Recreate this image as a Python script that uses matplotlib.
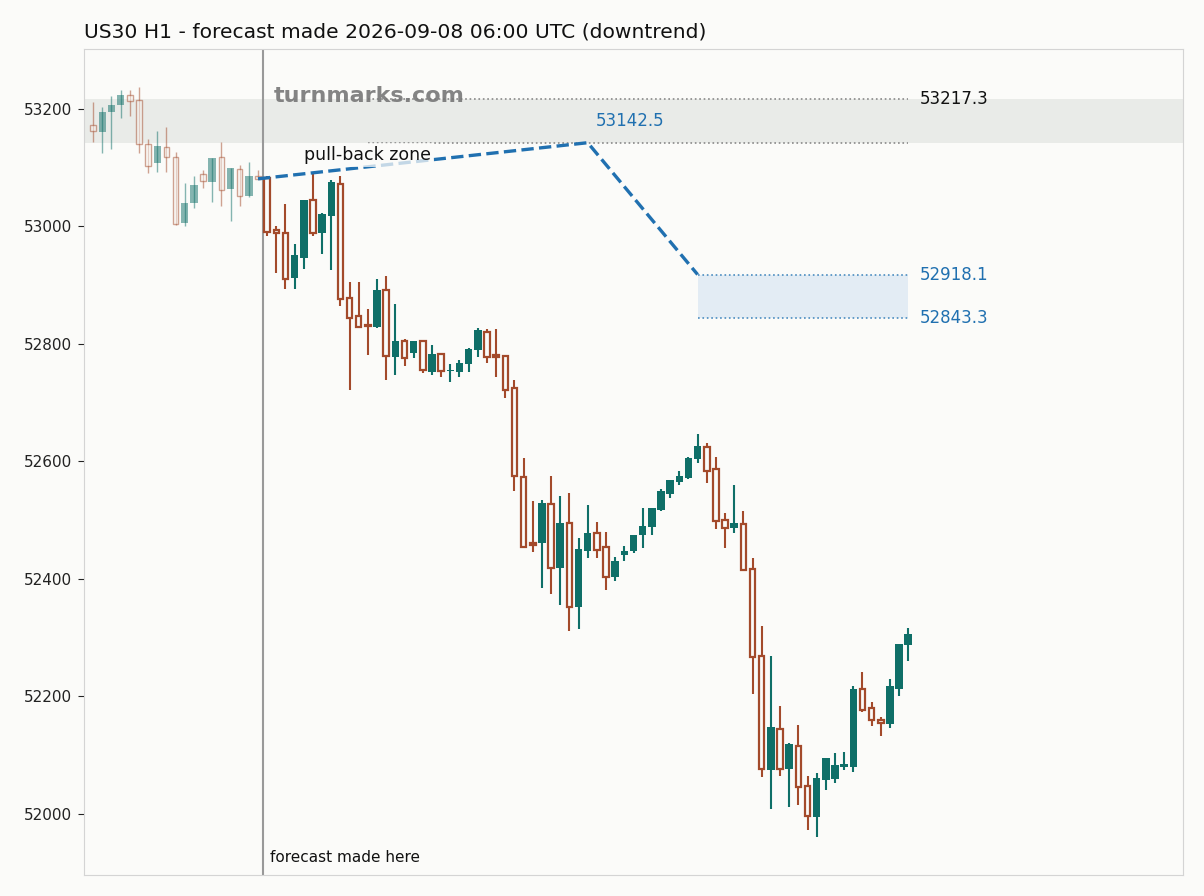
import matplotlib
matplotlib.use('Agg')
import matplotlib.pyplot as plt
import numpy as np

# OHLC, index 0..89 (first 19 are history before the forecast)
opens = [53173, 53161, 53194, 53206, 53224, 53215, 53140, 53108, 53135, 53118,
         53005, 53040, 53089, 53076, 53118, 53063, 53097, 53051, 53085,
         53082, 52994, 52988, 52912, 52947, 53045, 52989, 53018, 53073, 52878,
         52848, 52832, 52828, 52892, 52778, 52805, 52785, 52805, 52753, 52782,
         52754, 52753, 52765, 52789, 52821, 52781, 52780, 52725, 52574, 52461,
         52461, 52527, 52419, 52495, 52353, 52448, 52478, 52454, 52404, 52441,
         52447, 52474, 52488, 52517, 52545, 52565, 52572, 52604, 52624, 52587,
         52500, 52486, 52493, 52417, 52268, 52074, 52145, 52077, 52116, 52047,
         51994, 52057, 52060, 52080, 52080, 52212, 52180, 52160, 52153, 52213, 52287]
highs = [53212, 53204, 53222, 53233, 53232, 53237, 53149, 53163, 53170, 53127,
         53074, 53085, 53096, 53116, 53144, 53099, 53105, 53110, 53096,
         53085, 53000, 53039, 52970, 53045, 53092, 53022, 53079, 53085, 52906,
         52906, 52860, 52911, 52916, 52868, 52809, 52805, 52805, 52798, 52784,
         52766, 52772, 52793, 52827, 52825, 52825, 52781, 52739, 52605, 52533,
         52534, 52575, 52541, 52546, 52469, 52526, 52497, 52480, 52438, 52456,
         52475, 52521, 52520, 52553, 52568, 52584, 52607, 52647, 52632, 52607,
         52512, 52559, 52515, 52435, 52320, 52269, 52184, 52121, 52152, 52065,
         52070, 52095, 52104, 52106, 52218, 52242, 52191, 52165, 52230, 52289, 52317]
lows = [53143, 53125, 53132, 53184, 53188, 53125, 53091, 53092, 53093, 53003,
        53000, 53031, 53065, 53042, 53035, 53010, 53035, 53050, 53080,
        52984, 52920, 52893, 52893, 52927, 52983, 52953, 52925, 52865, 52721,
        52827, 52781, 52827, 52739, 52747, 52763, 52776, 52751, 52747, 52744,
        52736, 52743, 52753, 52777, 52768, 52744, 52708, 52550, 52454, 52445,
        52385, 52374, 52355, 52312, 52315, 52436, 52436, 52381, 52397, 52431,
        52444, 52453, 52475, 52516, 52538, 52559, 52570, 52598, 52564, 52485,
        52452, 52478, 52413, 52204, 52062, 52009, 52064, 52011, 52015, 51973,
        51961, 52041, 52053, 52075, 52072, 52174, 52150, 52132, 52147, 52200, 52261]
closes = [53163, 53194, 53207, 53224, 53214, 53140, 53103, 53137, 53118, 53004,
          53040, 53070, 53077, 53116, 53062, 53099, 53051, 53085, 53081,
          52991, 52988, 52910, 52951, 53045, 52988, 53021, 53075, 52876, 52844,
          52828, 52830, 52892, 52780, 52805, 52776, 52805, 52756, 52783, 52754,
          52756, 52767, 52791, 52824, 52777, 52778, 52722, 52575, 52454, 52458,
          52529, 52418, 52495, 52353, 52451, 52478, 52449, 52404, 52431, 52448,
          52475, 52490, 52520, 52549, 52568, 52575, 52605, 52626, 52583, 52498,
          52486, 52495, 52415, 52267, 52076, 52148, 52077, 52119, 52045, 51996,
          52061, 52095, 52083, 52085, 52213, 52177, 52160, 52155, 52218, 52289, 52306]

n_hist = 19
forecast_x = [18, 54, 66]
forecast_y = [53081, 53142.5, 52918.1]
pull_hi, pull_lo = 53217.3, 53142.5
tgt_hi, tgt_lo = 52918.1, 52843.3

bg = '#fbfbf9'
up_c = '#0f6f68'
dn_c = '#a34a2b'
blue = '#2070b0'

fig = plt.figure(figsize=(12.04, 8.96), dpi=100, facecolor=bg)
ax = fig.add_axes([84/1204, 21/896, 1099/1204, 826/896])
ax.set_facecolor(bg)

# pull-back band
ax.axhspan(pull_lo, pull_hi, color='#e9ebe8', zorder=0, lw=0)

for i in range(len(opens)):
    o, h, l, c = opens[i], highs[i], lows[i], closes[i]
    hist = i < n_hist
    a = 0.5 if hist else 1.0
    lw = 1.0 if hist else 1.5
    col = up_c if c >= o else dn_c
    ax.vlines(i, l, h, color=col, lw=lw, alpha=a, zorder=2)
    bot = min(o, c)
    hgt = max(abs(c - o), 1.5)
    if c >= o:
        ax.bar(i, hgt, bottom=bot, width=0.82, color=col, alpha=a, lw=0, zorder=3)
    else:
        ax.bar(i, hgt, bottom=bot, width=0.6, facecolor=bg, edgecolor=col,
               alpha=a, lw=1.0 if hist else 1.6, zorder=3)

# forecast line and zones
ax.axvline(18.5, color='#999999', lw=1.5, zorder=1)
ax.plot(forecast_x, forecast_y, color=blue, lw=2.4, ls='--', zorder=4)
ax.fill_between([66, 89], tgt_lo, tgt_hi, color='#e3ecf4', lw=0, zorder=0)
ax.hlines([pull_hi, pull_lo], 30, 89, colors='#888888', lw=1.2, linestyles=':', zorder=1)
ax.hlines([tgt_hi, tgt_lo], 66, 89, colors='#4a8cc0', lw=1.2, linestyles=':', zorder=1)

ax.text(90.3, pull_hi, f'{pull_hi:.1f}', color='#111111', fontsize=12, va='center')
ax.text(90.3, tgt_hi, f'{tgt_hi:.1f}', color=blue, fontsize=12, va='center')
ax.text(90.3, tgt_lo, f'{tgt_lo:.1f}', color=blue, fontsize=12, va='center')
ax.text(54.9, (pull_hi + pull_lo) / 2, f'{pull_lo:.1f}', color=blue, fontsize=12, va='center')

ax.text(19.7, 53222, 'turnmarks.com', color='#777777', fontsize=16, fontweight='bold',
        va='center', alpha=0.9, zorder=5)
ax.text(23.0, 53122, 'pull-back zone', color='#111111', fontsize=12.5, va='center', zorder=5,
        bbox=dict(facecolor=bg, edgecolor='none', alpha=0.75, pad=2))
ax.text(19.35, 51925, 'forecast made here', color='#111111', fontsize=11, va='center')

ax.set_xlim(-1, 119)
ax.set_ylim(51896, 53302)
ax.set_yticks(np.arange(52000, 53201, 200))
ax.set_xticks([])
ax.tick_params(axis='y', labelsize=11, colors='#222222', length=4, pad=4.5)
for s in ax.spines.values():
    s.set_color('#d4d4d4')

ax.set_title('US30 H1 - forecast made 2026-09-08 06:00 UTC (downtrend)', loc='left',
             fontsize=14.6, color='#111111', pad=8)

plt.savefig('out.png', dpi=100, facecolor=bg)
